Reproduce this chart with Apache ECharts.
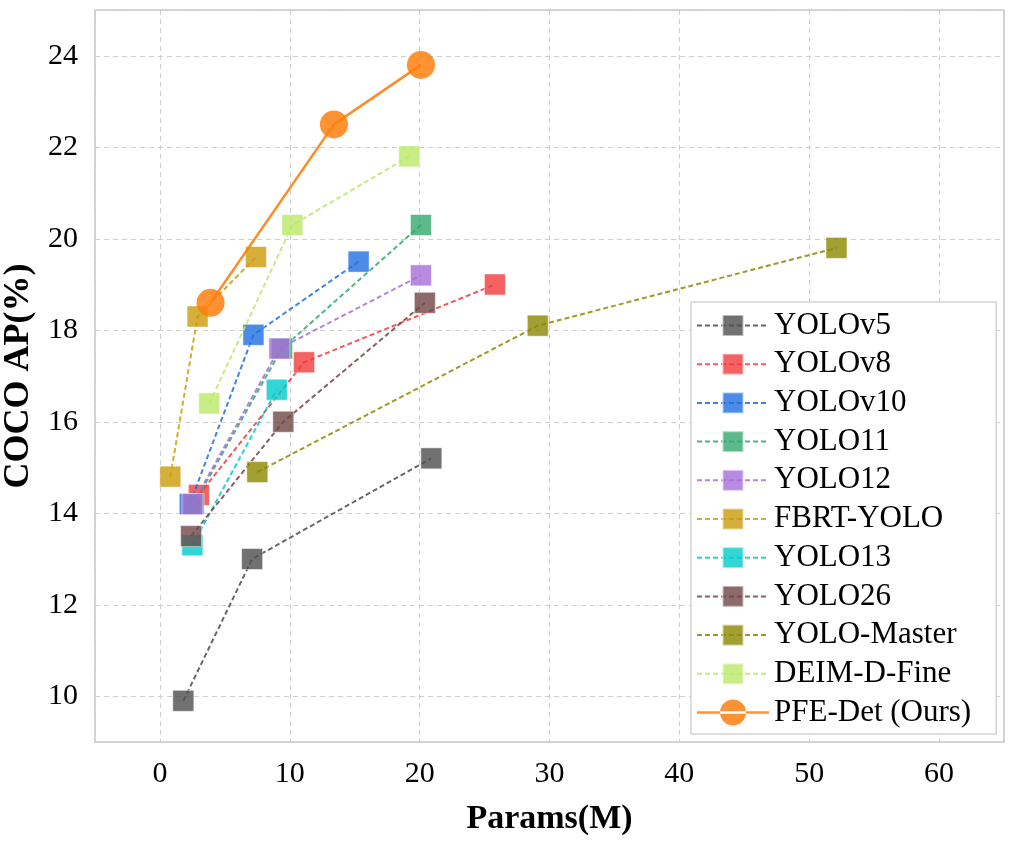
<!DOCTYPE html>
<html>
<head>
<meta charset="utf-8">
<title>Params vs COCO AP</title>
<script src="https://cdn.jsdelivr.net/npm/echarts@6/dist/echarts.min.js"></script>
<style>
  html, body { margin: 0; padding: 0; background: #fff; }
  #chart { width: 1014px; height: 842px; }
</style>
</head>
<body>
<div id="chart"></div>
<script>
// model names, in drawing order
var models = ['YOLOv5', 'YOLOv8', 'YOLOv10', 'YOLO11', 'YOLO12', 'FBRT-YOLO',
              'YOLO13', 'YOLO26', 'YOLO-Master', 'DEIM-D-Fine', 'PFE-Det (Ours)'];

// params (M) and AP (%) for each model
var yolov5Params = [1.8, 7.1, 20.9];   var yolov5AP = [9.9, 13.0, 15.2];
var yolov8Params = [3.0, 11.1, 25.8];  var yolov8AP = [14.4, 17.3, 19.0];
var yolov10Params = [2.3, 7.2, 15.3];  var yolov10AP = [14.2, 17.9, 19.5];
var yolo11Params = [2.6, 9.4, 20.1];   var yolo11AP = [14.2, 17.6, 20.3];
var yolo12Params = [2.5, 9.2, 20.1];   var yolo12AP = [14.2, 17.6, 19.2];
var fbrtParams = [0.8, 2.9, 7.4];      var fbrtAP = [14.8, 18.3, 19.6];
var yolo13Params = [2.5, 9.0];         var yolo13AP = [13.3, 16.7];
var yolo26Params = [2.4, 9.5, 20.4];   var yolo26AP = [13.5, 16.0, 18.6];
var masterParams = [7.5, 29.1, 52.1];  var masterAP = [14.9, 18.1, 19.8];
var deimParams = [3.8, 10.2, 19.2];    var deimAP = [16.4, 20.3, 21.8];
var pfeParams = [3.9, 13.4, 20.1];     var pfeAP = [18.6, 22.5, 23.8];

var allParams = [yolov5Params, yolov8Params, yolov10Params, yolo11Params, yolo12Params, fbrtParams,
                 yolo13Params, yolo26Params, masterParams, deimParams, pfeParams];
var allAP = [yolov5AP, yolov8AP, yolov10AP, yolo11AP, yolo12AP, fbrtAP,
             yolo13AP, yolo26AP, masterAP, deimAP, pfeAP];

var colors = ['#4d4d4d', '#f03c3c', '#1f6fe0', '#33a86b', '#a86ddb', '#cc9b0a',
              '#00cccc', '#704646', '#8c8800', '#bbe868', '#ff7f0e'];

var FONT = '"Liberation Serif", "Times New Roman", serif';

// legend icon for ours: a line with a big dot on it
var oursIcon = 'path://M0,11.8L72,11.8L72,14.2L0,14.2Z' +
               'M23,13A13,13 0 1,0 49,13A13,13 0 1,0 23,13Z';

function pairs(xs, ys) {
  var out = [];
  for (var i = 0; i < xs.length; i++) {
    out.push([xs[i], ys[i]]);
  }
  return out;
}

var series = [];
var legendData = [];
for (var i = 0; i < models.length; i++) {
  var ours = (i == models.length - 1);
  series.push({
    name: models[i],
    type: 'line',
    data: pairs(allParams[i], allAP[i]),
    symbol: ours ? 'circle' : 'rect',
    symbolSize: ours ? 28 : 21,
    z: 2 + i,
    itemStyle: {
      color: colors[i],
      opacity: ours ? 0.85 : 0.8,
      borderColor: ours ? colors[i] : 'rgba(255,255,255,0.6)',
      borderWidth: ours ? 0 : 1
    },
    lineStyle: {
      color: colors[i],
      width: ours ? 2.5 : 2,
      type: ours ? 'solid' : [5, 3],
      opacity: ours ? 0.9 : 0.85
    },
    emphasis: { disabled: true },
    animation: false
  });
  legendData.push(ours ? { name: models[i], icon: oursIcon } : { name: models[i] });
}

var chart = echarts.init(document.getElementById('chart'));
chart.setOption({
  backgroundColor: '#fff',
  color: colors,
  grid: {
    left: 95, right: 10, top: 10, bottom: 100,
    outerBoundsMode: 'none',
    show: true, borderColor: '#c8c8c8', borderWidth: 1.5
  },
  legend: {
    orient: 'vertical',
    left: 691, top: 302,
    padding: [8, 25, 6, 5],
    itemWidth: 72, itemHeight: 26, itemGap: 7.7,
    backgroundColor: '#fff',
    borderColor: '#d4d4d4', borderWidth: 1.5,
    textStyle: { fontFamily: FONT, fontSize: 31, color: '#000', lineHeight: 30 },
    data: legendData
  },
  xAxis: {
    type: 'value',
    min: -5, max: 65,
    splitNumber: 7, minInterval: 10, maxInterval: 10,
    name: 'Params(M)',
    nameLocation: 'middle',
    nameGap: 60,
    nameTextStyle: { fontFamily: FONT, fontSize: 34, fontWeight: 'bold', color: '#000' },
    axisLine: { show: false },
    axisTick: { show: false },
    axisLabel: {
      fontFamily: FONT, fontSize: 30, color: '#000', margin: 17,
      formatter: function (v) { return (v % 10 === 0) ? String(v) : ''; }
    },
    splitLine: { show: true, lineStyle: { color: '#cfcfcf', type: [5, 4], width: 1 } }
  },
  yAxis: {
    type: 'value',
    min: 9, max: 25,
    splitNumber: 8, minInterval: 2, maxInterval: 2,
    name: 'COCO AP(%)',
    nameLocation: 'middle',
    nameGap: 46,
    nameTextStyle: { fontFamily: FONT, fontSize: 36, fontWeight: 'bold', color: '#000' },
    axisLine: { show: false },
    axisTick: { show: false },
    axisLabel: {
      fontFamily: FONT, fontSize: 30, color: '#000', margin: 17,
      formatter: function (v) { return (v % 2 === 0) ? String(v) : ''; }
    },
    splitLine: { show: true, lineStyle: { color: '#cfcfcf', type: [5, 4], width: 1 } }
  },
  series: series
});
</script>
</body>
</html>
